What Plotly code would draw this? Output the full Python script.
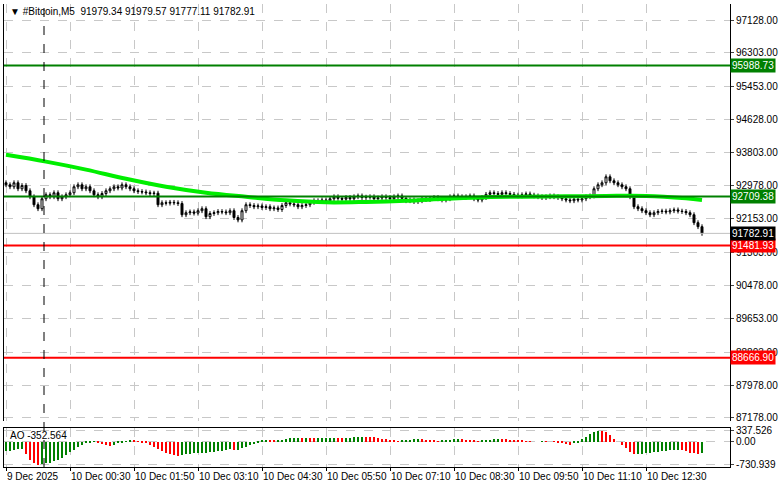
import plotly.graph_objects as go

# закрытия свечей M5, с 9 Dec 23:10
closes = [
    93000, 92950, 93050, 92900, 92980, 92850, 92700, 92500, 92400, 92650, 92750, 92700, 92800, 92650, 92700, 92750,
    92800, 92950, 93000, 92900, 92950, 92850, 92750, 92700, 92780, 92850, 92900, 92950, 92920, 93000, 92950, 92900,
    92850, 92830, 92820, 92800, 92780, 92790, 92500, 92550, 92540, 92560, 92550, 92530, 92250, 92300, 92320, 92290,
    92350, 92400, 92200, 92280, 92300, 92330, 92320, 92300, 92350, 92180, 92120, 92350, 92500, 92480, 92450, 92470,
    92430, 92450, 92400, 92420, 92380, 92480, 92550, 92520, 92500, 92450, 92480, 92500, 92560, 92600, 92580, 92620,
    92600, 92650, 92700, 92660, 92640, 92680, 92650, 92700, 92720, 92680, 92690, 92700, 92650, 92670, 92700, 92680,
    92650, 92700, 92720, 92660, 92600, 92620, 92580, 92600, 92640, 92630, 92660, 92680, 92650, 92620, 92650, 92700,
    92720, 92700, 92680, 92700, 92720, 92650, 92620, 92680, 92760, 92800, 92780, 92760, 92800, 92780, 92760, 92740,
    92720, 92750, 92770, 92740, 92720, 92700, 92680, 92700, 92720, 92700, 92680, 92650, 92620, 92600, 92640, 92620,
    92650, 92700, 92720, 92900, 93000, 93050, 93200, 93100, 93050, 93000, 92950, 92900, 92700, 92450, 92400, 92350,
    92300, 92250, 92300, 92330, 92340, 92320, 92350, 92370, 92340, 92330, 92300, 92250, 92050, 91950, 91782.91,
]
first_open = 93050
wick = 60

ao = [
    -300, -280, -260, -240, -230, -400, -560, -650, -730, -700, -680, -650, -600, -560, -500, -420,
    -330, -250, -180, -100, -60, -20, 10, -40, -80, -120, -140, -100, -60, -30, 10, 40,
    20, 10, -20, -60, -120, -180, -240, -300, -350, -400, -430, -450, -420, -400, -390, -370,
    -360, -350, -340, -330, -320, -300, -280, -270, -240, -260, -250, -200, -160, -120, -80, -40,
    40, 60, 50, 30, 40, 60, 80, 100, 110, 120, 115, 120, 110, 100, 105, 110,
    115, 120, 125, 110, 105, 115, 120, 130, 150, 155, 150, 140, 130, 110, 90, 70,
    40, 20, 10, 20, 30, 50, 70, 80, 70, 50, 30, 20, 10, 20, 40, 60,
    80, 90, 80, 60, 40, 20, 10, 20, 30, 60, 80, 90, 80, 70, 60, 40,
    30, 20, 10, -10, 0, 0, 5, 5, 0, -10, -30, -60, -80, -100, -60, -20,
    80, 150, 230, 300, 330, 320, 300, 200, 80, 0, -100, -200, -320, -400, -390, -380,
    -370, -350, -330, -310, -300, -280, -270, -260, -250, -260, -300, -340, -360, -380, -352.564,
]

# скользящая средняя (точки по барам)
ma_x = [0, 10, 20, 30, 40, 50, 60, 70, 80, 90, 100, 110, 120, 130, 140, 150, 160, 170, 174]
ma_y = [93750, 93580, 93380, 93150, 92950, 92800, 92700, 92610, 92560, 92570, 92600, 92650, 92690, 92700, 92710, 92720, 92720, 92660, 92620]

tick_pos = [0, 16, 32, 48, 64, 80, 96, 112, 128, 144, 160]
tick_txt = ['9 Dec 2025', '10 Dec 00:30', '10 Dec 01:50', '10 Dec 03:10', '10 Dec 04:30', '10 Dec 05:50',
            '10 Dec 07:10', '10 Dec 08:30', '10 Dec 09:50', '10 Dec 11:10', '10 Dec 12:30']
price_ticks = [97128, 96303, 95453, 94628, 93803, 92978, 92153, 91303, 90478, 89653, 88803, 87978, 87178]

levels = [(95988.73, '#008000'), (92709.38, '#008000'), (91481.93, '#ff0000'), (88666.90, '#ff0000')]

n = len(closes)
xs = list(range(n))
opens = [first_open] + closes[:-1]
highs = [max(o, c) + wick for o, c in zip(opens, closes)]
lows = [min(o, c) - wick for o, c in zip(opens, closes)]

fig = go.Figure()
fig.add_trace(go.Candlestick(x=xs, open=opens, high=highs, low=lows, close=closes,
                             increasing=dict(fillcolor='white', line=dict(color='black', width=1)),
                             decreasing=dict(fillcolor='black', line=dict(color='black', width=1)),
                             whiskerwidth=0, xaxis='x', yaxis='y2', showlegend=False))
fig.add_trace(go.Scatter(x=ma_x, y=ma_y, mode='lines', line=dict(color='#00ee00', width=4, shape='spline'),
                         xaxis='x', yaxis='y2', showlegend=False))
ao_col = ['#008000'] + ['#008000' if ao[i] > ao[i - 1] else '#ff0000' for i in range(1, n)]
fig.add_trace(go.Bar(x=xs, y=ao, marker=dict(color=ao_col, line=dict(width=0)), width=0.3,
                     xaxis='x', yaxis='y', showlegend=False))

for lv, col in levels:
    fig.add_shape(type='line', xref='x domain', yref='y2', x0=0, x1=1, y0=lv, y1=lv,
                  line=dict(color=col, width=2))
    fig.add_annotation(xref='paper', yref='y2', x=1, y=lv, xanchor='left', text='%.2f' % lv,
                       showarrow=False, bgcolor=col, font=dict(color='white', size=10), borderpad=1)
fig.add_shape(type='line', xref='x domain', yref='y2', x0=0, x1=1, y0=closes[-1], y1=closes[-1],
              line=dict(color='#c0c0c0', width=1))
fig.add_annotation(xref='paper', yref='y2', x=1, y=closes[-1], xanchor='left', text='%.2f' % closes[-1],
                   showarrow=False, bgcolor='black', font=dict(color='white', size=10), borderpad=1)
fig.add_shape(type='line', xref='x', yref='paper', x0=9.5, x1=9.5, y0=0, y1=1,
              line=dict(color='black', width=1, dash='dash'))

fig.add_annotation(xref='paper', yref='paper', x=0.005, y=1, xanchor='left', yanchor='top', showarrow=False,
                   text='▼ #Bitcoin,M5  91979.34 91979.57 91777.11 91782.91', font=dict(size=10, color='black'))
fig.add_annotation(xref='paper', yref='paper', x=0.005, y=0.085, xanchor='left', yanchor='top', showarrow=False,
                   text='AO -352.564', font=dict(size=10, color='black'))

grid = dict(showgrid=True, gridcolor='#c8c8c8', griddash='dash', gridwidth=1)
fig.update_layout(
    width=781, height=489, paper_bgcolor='white', plot_bgcolor='white',
    margin=dict(l=4, r=51, t=4, b=22, autoexpand=False),
    font=dict(family='Liberation Sans, Arial', size=10, color='black'),
    bargap=0,
    xaxis=dict(range=[-0.5, 181], tickvals=tick_pos, ticktext=tick_txt, rangeslider=dict(visible=False),
               showline=True, linecolor='black', mirror=True, ticks='outside', ticklen=3, tickcolor='black',
               tickangle=0, ticklabelposition='outside right', anchor='y', **grid),
    yaxis=dict(domain=[0, 0.085], range=[-800, 420], side='right', tickvals=[337.526, 0, -730.939],
               ticktext=['337.526', '0.00', '-730.939'], showline=True, linecolor='black', mirror=True,
               zeroline=False, ticks='outside', ticklen=3, **grid),
    yaxis2=dict(domain=[0.099, 1], range=[87078, 97529], side='right', tickvals=price_ticks,
                ticktext=['%.2f' % p for p in price_ticks], showline=True, linecolor='black', mirror=True,
                ticks='outside', ticklen=3, anchor='x', **grid),
)

# убрать отступ страницы браузера
fig.write_html("out.html", config={'displayModeBar': False},
               post_script="document.body.style.margin='0';")
